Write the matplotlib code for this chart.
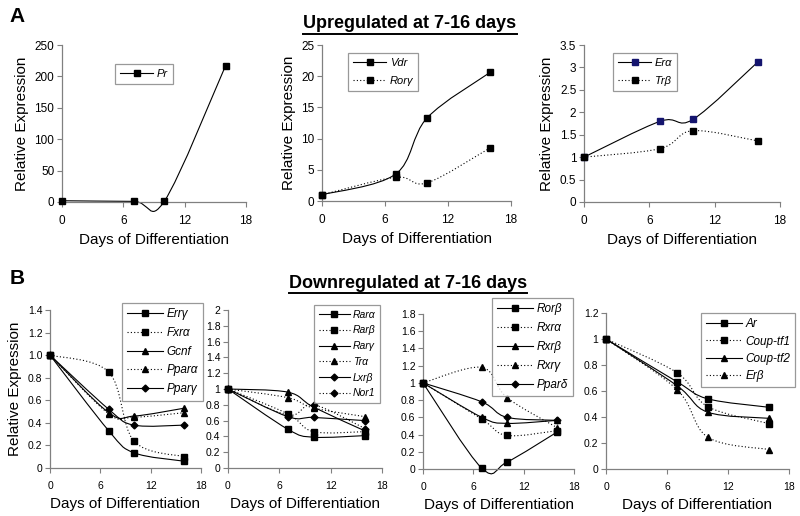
import matplotlib
matplotlib.use("Agg")
import matplotlib.pyplot as plt
from matplotlib.path import Path
from matplotlib.patches import PathPatch
from matplotlib.lines import Line2D
from matplotlib.ticker import FuncFormatter, MultipleLocator
import numpy as np

plt.rcParams['font.family'] = ['Liberation Sans', 'DejaVu Sans']

days = [0, 7, 10, 16]

# Panel A (upregulated)
a1_names = ["Pr"]
a1_vals = [[2, 1, 1, 217]]
a2_names = ["Vdr", "Rorγ"]
a2_vals = [[1, 4.3, 13.3, 20.6], [1, 3.8, 2.9, 8.5]]
a3_names = ["Erα", "Trβ"]
a3_vals = [[1, 1.80, 1.84, 3.13], [1, 1.19, 1.59, 1.36]]

# Panel B (downregulated)
b1_names = ["Errγ", "Fxrα", "Gcnf", "Pparα", "Pparγ"]
b1_vals = [[1, 0.33, 0.135, 0.06],
           [1, 0.85, 0.24, 0.10],
           [1, 0.49, 0.46, 0.53],
           [1, 0.48, 0.45, 0.49],
           [1, 0.52, 0.38, 0.38]]
b2_names = ["Rarα", "Rarβ", "Rarγ", "Trα", "Lxrβ", "Nor1"]
b2_vals = [[1, 0.49, 0.39, 0.41],
           [1, 0.685, 0.46, 0.46],
           [1, 0.96, 0.77, 0.47],
           [1, 0.89, 0.76, 0.65],
           [1, 0.65, 0.64, 0.60],
           [1, 0.67, 0.80, 0.50]]
b3_names = ["Rorβ", "Rxrα", "Rxrβ", "Rxrγ", "Pparδ"]
b3_vals = [[1, 0.01, 0.08, 0.43],
           [1, 0.58, 0.39, 0.445],
           [1, 0.60, 0.53, 0.565],
           [1, 1.18, 0.83, 0.48],
           [1, 0.78, 0.60, 0.565]]
b4_names = ["Ar", "Coup-tf1", "Coup-tf2", "Erβ"]
b4_vals = [[1, 0.67, 0.54, 0.475],
           [1, 0.74, 0.48, 0.35],
           [1, 0.64, 0.437, 0.39],
           [1, 0.61, 0.245, 0.15]]

W, H = 800, 516
fig = plt.figure(figsize=(8, 5.16), dpi=100)

def axes_px(l, r, t, b):
    return fig.add_axes([l / W, 1 - b / H, (r - l) / W, (b - t) / H])

SPINE = '#808080'

def smooth_path(x, y):
    pts = np.column_stack([x, y]).astype(float)
    n = len(pts)
    verts = [pts[0]]
    codes = [Path.MOVETO]
    for i in range(n - 1):
        p0 = pts[i - 1] if i > 0 else pts[i]
        p1 = pts[i]
        p2 = pts[i + 1]
        p3 = pts[i + 2] if i + 2 < n else pts[i + 1]
        c1 = p1 + (p2 - p0) / 6.0
        c2 = p2 - (p3 - p1) / 6.0
        verts += [c1, c2, p2]
        codes += [Path.CURVE4] * 3
    return Path(verts, codes)

STY = {'solid': '-', 'dot': (0, (1, 2))}
MSIZE = {'s': 4.0, '^': 4.5, 'D': 3.5}

def draw(ax, names, vals, markers, styles, mcolors=None):
    handles = []
    for k, (nm, v) in enumerate(zip(names, vals)):
        ls = STY[styles[k]]
        mc = mcolors[k] if mcolors else 'black'
        patch = PathPatch(smooth_path(days, v), fill=False, edgecolor='black',
                          linestyle=ls, linewidth=0.8, clip_on=False,
                          transform=ax.transData)
        ax.add_patch(patch)
        ms = MSIZE[markers[k]]
        ax.plot(days, v, linestyle='none', marker=markers[k], color=mc,
                markersize=ms, clip_on=False, zorder=3)
        handles.append(Line2D([], [], color='black', linestyle=ls, linewidth=0.8,
                              marker=markers[k], markersize=ms,
                              markerfacecolor=mc, markeredgecolor=mc))
    return handles

def style_axes(ax, ymax, ystep, fmt, ylabel=True, ticksize=8.5):
    ax.set_xlim(0, 18)
    ax.set_ylim(0, ymax)
    ax.xaxis.set_major_locator(MultipleLocator(6))
    ax.yaxis.set_major_locator(MultipleLocator(ystep))
    ax.yaxis.set_major_formatter(FuncFormatter(fmt))
    for s in ['top', 'right']:
        ax.spines[s].set_visible(False)
    for s in ['left', 'bottom']:
        ax.spines[s].set_color(SPINE)
        ax.spines[s].set_linewidth(0.9)
    ax.tick_params(direction='out', length=3.5, width=0.8, color=SPINE,
                   labelsize=ticksize, labelcolor='black')
    ax.tick_params(axis='x', pad=6)
    ax.tick_params(axis='y', pad=2)
    ax.set_xlabel("Days of Differentiation", fontsize=11, labelpad=4)
    if ylabel:
        ax.set_ylabel("Relative Expression", fontsize=11, labelpad=4)
    ax.patch.set_alpha(0)

fmt_g = lambda v, p: "0" if abs(v) < 1e-9 else ("%g" % round(v, 3))
fmt_1 = lambda v, p: "0" if abs(v) < 1e-9 else ("%.1f" % v)

def legend(ax, handles, names, x, y, spacing, size=8):
    lg = ax.legend(handles, names, loc='upper left',
                   bbox_to_anchor=(x / W, 1 - y / H), bbox_transform=fig.transFigure,
                   borderaxespad=0, frameon=True, fancybox=False,
                   handlelength=3.0, handletextpad=0.3, labelspacing=spacing,
                   borderpad=0.45, prop={'style': 'italic', 'size': size})
    lg.get_frame().set_edgecolor(SPINE)
    lg.get_frame().set_linewidth(0.9)
    return lg

# ---- Panel A
ax = axes_px(62, 246, 45, 202)
h = draw(ax, a1_names, a1_vals, ['s'], ['solid'])
style_axes(ax, 250, 50, fmt_g)
legend(ax, h, a1_names, 115, 64, 0.6)

ax = axes_px(322, 511, 45, 201)
h = draw(ax, a2_names, a2_vals, ['s', 's'], ['solid', 'dot'])
style_axes(ax, 25, 5, fmt_g)
legend(ax, h, a2_names, 348, 53, 0.7)

ax = axes_px(584, 780, 45, 202)
h = draw(ax, a3_names, a3_vals, ['s', 's'], ['solid', 'dot'], ['#14146e', 'black'])
style_axes(ax, 3.5, 0.5, fmt_g)
legend(ax, h, a3_names, 613, 53, 0.7)

# ---- Panel B
ax = axes_px(50, 201, 310, 468)
h = draw(ax, b1_names, b1_vals, ['s', 's', '^', '^', 'D'],
         ['solid', 'dot', 'solid', 'dot', 'solid'])
style_axes(ax, 1.4, 0.2, fmt_1, ticksize=7.5)
legend(ax, h, b1_names, 122, 303, 0.57, size=8.5)

ax = axes_px(228, 382, 310, 468)
h = draw(ax, b2_names, b2_vals, ['s', 's', '^', '^', 'D', 'D'],
         ['solid', 'dot', 'solid', 'dot', 'solid', 'dot'])
style_axes(ax, 2, 0.2, fmt_g, ylabel=False, ticksize=7.5)
legend(ax, h, b2_names, 314, 305, 0.55, size=7.5)

ax = axes_px(423, 574, 314, 469)
h = draw(ax, b3_names, b3_vals, ['s', 's', '^', '^', 'D'],
         ['solid', 'dot', 'solid', 'dot', 'solid'])
style_axes(ax, 1.8, 0.2, fmt_g, ylabel=False, ticksize=7.5)
legend(ax, h, b3_names, 492, 298, 0.59, size=8.5)

ax = axes_px(606, 789, 313, 469)
h = draw(ax, b4_names, b4_vals, ['s', 's', '^', '^'],
         ['solid', 'dot', 'solid', 'dot'])
style_axes(ax, 1.2, 0.2, fmt_g, ylabel=False, ticksize=7.5)
legend(ax, h, b4_names, 701, 313, 0.44, size=8.5)

# ---- titles & panel letters
t1 = fig.text(410 / W, 1 - 24 / H, "Upregulated at 7-16 days", ha='center', va='center',
              fontsize=13, fontweight='bold')
t2 = fig.text(408 / W, 1 - 283 / H, "Downregulated at 7-16 days", ha='center', va='center',
              fontsize=13, fontweight='bold')
fig.text(17 / W, 1 - 16 / H, "A", ha='center', va='center', fontsize=15, fontweight='bold')
fig.text(17 / W, 1 - 279 / H, "B", ha='center', va='center', fontsize=15, fontweight='bold')

fig.canvas.draw()
r = fig.canvas.get_renderer()
for t in (t1, t2):
    bb = t.get_window_extent(r)
    yb = bb.y0 - 1
    fig.add_artist(Line2D([bb.x0 / W, bb.x1 / W], [yb / H, yb / H],
                          transform=fig.transFigure, color='black', linewidth=1.4))

fig.savefig("out.png", dpi=100)
